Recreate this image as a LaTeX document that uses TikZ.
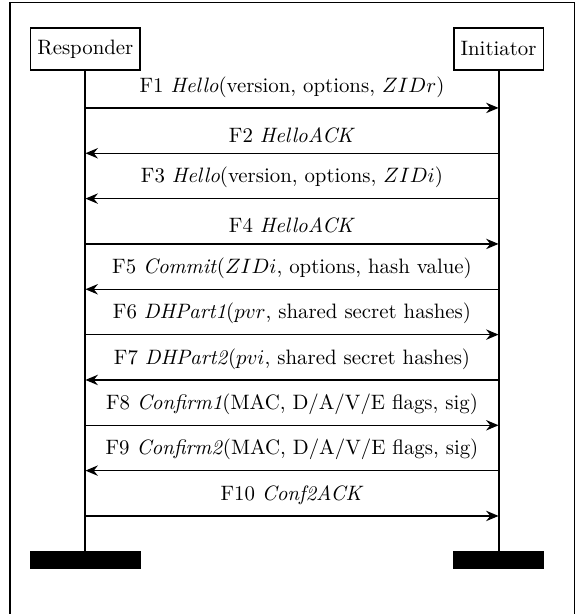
\documentclass[tikz,border=0pt]{standalone}
\usepackage{amsmath}
\usetikzlibrary{arrows.meta}
\usetikzlibrary{positioning}
\tikzset{>={Stealth[length=6pt, width=5pt, inset=2pt]}}

\begin{document}
\begin{tikzpicture}[party/.style={draw, line width=0.8pt, minimum height=20pt, inner sep=3.3pt}, stopbar/.style={fill=black, inner sep=0pt, minimum height=8.6pt}, life/.style={line width=1pt}, msg/.style={->, line width=0.6pt}, node distance=21.76pt, on grid, auto]
		\useasboundingbox (0,0) rectangle (276pt,-294.7pt);
		\begin{scope}
			\clip (0,0) rectangle (276pt,-294.7pt);
			\draw[line width=0.5pt] (4.8pt,-1pt) rectangle (275.6pt,-300pt);
		\end{scope}
		\node[party] (resp) at (41pt,-23.5pt) {Responder};
		\node[party] (init) [right= 198.3pt of resp] {Initiator};
		\coordinate[below= 28.3pt of resp] (r1);
		\coordinate[below= 28.3pt of init] (i1);
		\coordinate[below= of r1] (r2);
		\coordinate[below= of i1] (i2);
		\coordinate[below= of r2] (r3);
		\coordinate[below= of i2] (i3);
		\coordinate[below= of r3] (r4);
		\coordinate[below= of i3] (i4);
		\coordinate[below= of r4] (r5);
		\coordinate[below= of i4] (i5);
		\coordinate[below= of r5] (r6);
		\coordinate[below= of i5] (i6);
		\coordinate[below= of r6] (r7);
		\coordinate[below= of i6] (i7);
		\coordinate[below= of r7] (r8);
		\coordinate[below= of i7] (i8);
		\coordinate[below= of r8] (r9);
		\coordinate[below= of i8] (i9);
		\coordinate[below= of r9] (r10);
		\coordinate[below= of i9] (i10);
		\node[stopbar, minimum width=53.3pt] (rend) [below= 245.3pt of resp] {};
		\node[stopbar, minimum width=43.7pt] (iend) [below= 245.3pt of init] {};
		\draw[life] (resp) -- (rend);
		\draw[life] (init) -- (iend);
		% messages
		\draw[msg] (r1) -- node[above=1.5pt] {F1 \textit{Hello}(version, options, $ZIDr$)} (i1);
		\draw[msg] (i2) -- node[above=1.5pt] {F2 \textit{HelloACK}} (r2);
		\draw[msg] (i3) -- node[above=1.5pt] {F3 \textit{Hello}(version, options, $ZIDi$)} (r3);
		\draw[msg] (r4) -- node[above=1.5pt] {F4 \textit{HelloACK}} (i4);
		\draw[msg] (i5) -- node[above=1.5pt] {F5 \textit{Commit}($ZIDi$, options, hash value)} (r5);
		\draw[msg] (r6) -- node[above=1.5pt] {F6 \textit{DHPart1}($pvr$, shared secret hashes)} (i6);
		\draw[msg] (i7) -- node[above=1.5pt] {F7 \textit{DHPart2}($pvi$, shared secret hashes)} (r7);
		\draw[msg] (r8) -- node[above=1.5pt] {F8 \textit{Confirm1}(MAC, D/A/V/E flags, sig)} (i8);
		\draw[msg] (i9) -- node[above=1.5pt] {F9 \textit{Confirm2}(MAC, D/A/V/E flags, sig)} (r9);
		\draw[msg] (r10) -- node[above=1.5pt] {F10 \textit{Conf2ACK}} (i10);
	\end{tikzpicture}
\end{document}
